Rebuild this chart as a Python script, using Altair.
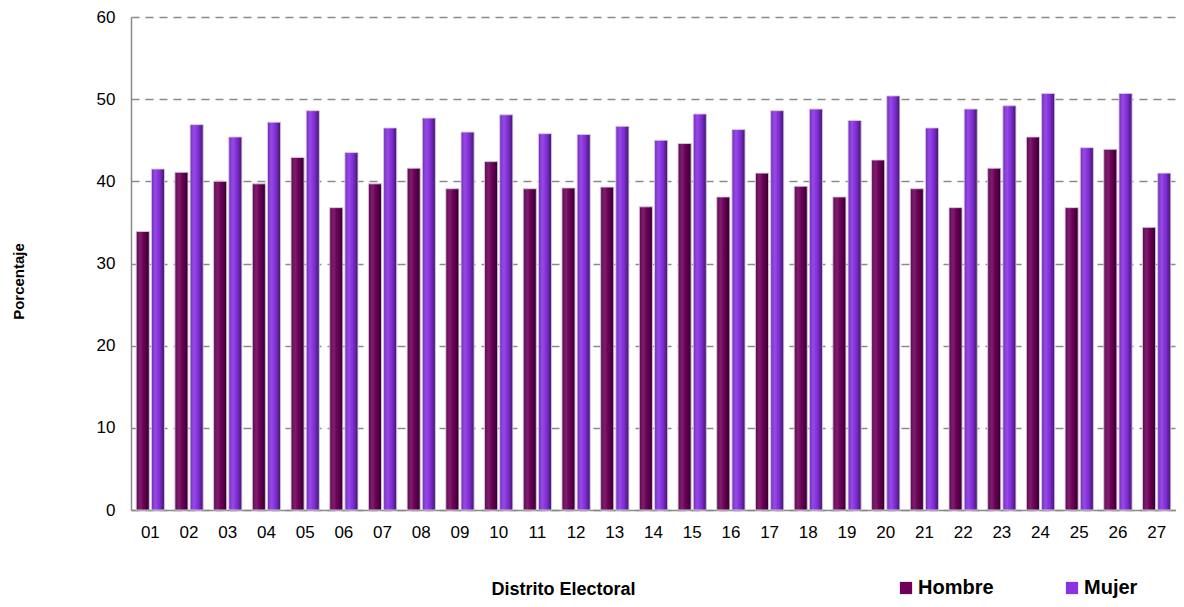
import altair as alt
import pandas as pd

districts = ["01", "02", "03", "04", "05", "06", "07", "08", "09", "10",
             "11", "12", "13", "14", "15", "16", "17", "18", "19", "20",
             "21", "22", "23", "24", "25", "26", "27"]
hombre = [33.9, 41.1, 40.0, 39.7, 42.9, 36.8, 39.7, 41.6, 39.1, 42.4,
          39.1, 39.2, 39.3, 36.9, 44.6, 38.1, 41.0, 39.4, 38.1, 42.6,
          39.1, 36.8, 41.6, 45.4, 36.8, 43.9, 34.4]
mujer = [41.5, 46.9, 45.4, 47.2, 48.6, 43.5, 46.5, 47.7, 46.0, 48.1,
         45.8, 45.7, 46.7, 45.0, 48.2, 46.3, 48.6, 48.8, 47.4, 50.4,
         46.5, 48.8, 49.2, 50.7, 44.1, 50.7, 41.0]
series = ["Hombre", "Mujer"]
colors = ["#6E005A", "#8A32E4"]

rows = []
for d, h, m in zip(districts, hombre, mujer):
    rows.append({"distrito": d, "sexo": "Hombre", "valor": h})
    rows.append({"distrito": d, "sexo": "Mujer", "valor": m})
df = pd.DataFrame(rows)

FONT = "Liberation Sans"

x_enc = alt.X(
    "distrito:N", sort=districts,
    scale=alt.Scale(paddingInner=0.27, paddingOuter=0.135),
    axis=alt.Axis(
        title="Distrito Electoral", labelAngle=0, ticks=False, tickSize=0,
        labelPadding=14, labelFontSize=17, labelFont=FONT, labelColor="#000000",
        domainColor="#8a8a8a", domainWidth=1.5,
        titleFont=FONT, titleFontSize=18, titleFontWeight="bold", titleColor="#000000",
        titleX=432, titleY=79, titleAlign="center", titleBaseline="middle",
        grid=False,
    ),
)
y_enc = alt.Y(
    "valor:Q",
    scale=alt.Scale(domain=[0, 60], nice=False),
    axis=alt.Axis(
        title="Porcentaje", values=[0, 10, 20, 30, 40, 50, 60], ticks=False, tickSize=0,
        labelPadding=16, labelFontSize=17, labelFont=FONT, labelColor="#000000",
        domainColor="#8a8a8a", domainWidth=1.5,
        grid=True, gridColor="#8a8a8a", gridDash=[8, 6], gridWidth=1.6,
        titleFont=FONT, titleFontSize=15, titleFontWeight="bold", titleColor="#000000",
        titleX=-113, titleY=264, titleAngle=270, titleAlign="center", titleBaseline="middle",
    ),
)
xoff = alt.XOffset("sexo:N", sort=series, scale=alt.Scale(paddingInner=0.14))

base = alt.Chart(df).mark_bar().encode(
    x=x_enc, y=y_enc, xOffset=xoff,
    color=alt.Color(
        "sexo:N", sort=series,
        scale=alt.Scale(domain=series, range=colors),
        legend=alt.Legend(
            title=None, orient="none", direction="horizontal",
            legendX=765, legendY=561, symbolType="square", symbolSize=150,
            symbolStrokeWidth=0, labelFont=FONT, labelFontSize=20,
            labelFontWeight="bold", labelColor="#000000", labelOffset=2,
            columnPadding=68,
        ),
    ),
)

shade = alt.Gradient(
    gradient="linear", x1=0, x2=1, y1=0, y2=0,
    stops=[
        alt.GradientStop(color="rgba(0,0,0,0.25)", offset=0),
        alt.GradientStop(color="rgba(255,255,255,0.10)", offset=0.35),
        alt.GradientStop(color="rgba(0,0,0,0.05)", offset=0.6),
        alt.GradientStop(color="rgba(0,0,0,0.55)", offset=1),
    ],
)
overlay = alt.Chart(df).mark_bar(
    color=shade, stroke="#dccbe6", strokeWidth=1, strokeOpacity=0.9
).encode(x=x_enc, y=y_enc, xOffset=xoff)

chart = alt.layer(base, overlay).properties(
    width=1045, height=493,
    autosize=alt.AutoSizeParams(type="none"),
    padding={"left": 123, "top": 9, "right": 0, "bottom": 89},
    background="#ffffff",
).configure_view(strokeWidth=0)

chart.save("out.html", embed_options={"renderer": "svg", "actions": False})
